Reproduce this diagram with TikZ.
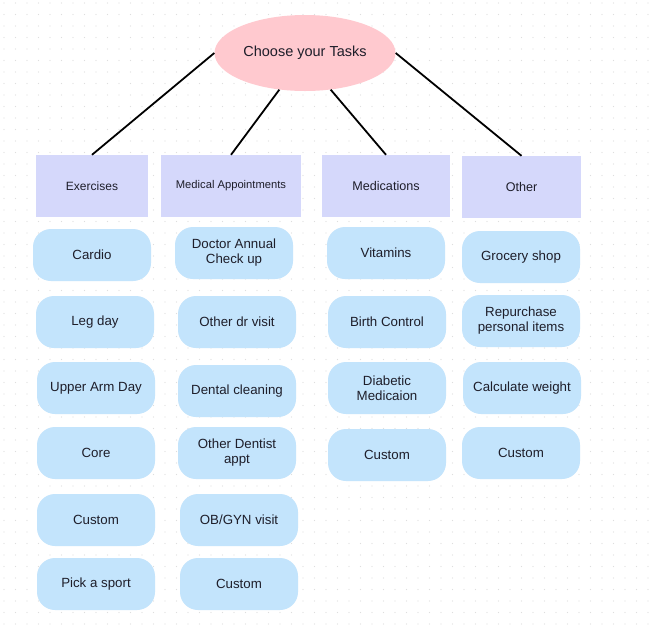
\documentclass[tikz,border=0pt]{standalone}
\usepackage{fontspec}
\setmainfont{Liberation Sans}
\definecolor{taskpink}{HTML}{FFC9CF}
\definecolor{headblue}{HTML}{D5D8FB}
\definecolor{itemblue}{HTML}{C3E4FC}
\definecolor{inkdark}{HTML}{1E1E2A}
\tikzset{
  task/.style={ellipse,fill=taskpink,minimum width=181pt,minimum height=76pt,inner sep=0pt,
    text=inkdark,font=\fontsize{14.5}{17}\selectfont},
  head/.style={rectangle,fill=headblue,minimum height=62pt,inner sep=0pt,
    text=inkdark,font=\fontsize{12}{13}\selectfont},
  item/.style={rectangle,rounded corners=18pt,fill=itemblue,minimum width=118pt,minimum height=52pt,
    inner sep=0pt,align=center,text=inkdark,font=\fontsize{13.3}{15}\selectfont},
  link/.style={draw=black,line width=1.8pt}
}
\usetikzlibrary{shapes.geometric}
\begin{document}
\begin{tikzpicture}[x=1pt,y=-1pt]
  \useasboundingbox (0,0) rectangle (652,625);
  \fill [white] (0,0) rectangle (652,625);
  % dotted background
  \foreach \i in {0,...,56} {
    \foreach \j in {0,...,54} {
      \fill [black!13] (4+11.5*\i,3+11.5*\j) circle (0.7pt);
    }
  }
  \node [task] (tasks) at (305,53) {Choose your Tasks};
  \node [head,minimum width=112pt] (exer) at (92,186) {Exercises};
  \node [head,minimum width=140pt,font=\fontsize{11.2}{13}\selectfont] (medapp) at (231,186) {Medical Appointments};
  \node [head,minimum width=128pt,font=\fontsize{12.6}{14}\selectfont] (meds) at (386,186) {Medications};
  \node [head,minimum width=119pt,font=\fontsize{12.6}{14}\selectfont] (other) at (521.5,187) {Other};
  \draw [link] (tasks.west) -- (exer.north);
  \draw [link] (tasks.235) -- (medapp.north);
  \draw [link] (tasks.305) -- (meds.north);
  \draw [link] (tasks.east) -- (other.north);
  % exercises
  \node [item] (ex1) at (92,255) {Cardio};
  \node [item] (ex2) at (95,322) {Leg day};
  \node [item] (ex3) at (96,388) {Upper Arm Day};
  \node [item] (ex4) at (96,453) {Core};
  \node [item] (ex5) at (96,520) {Custom};
  \node [item] (ex6) at (96,584) {Pick a sport};
  % medical appointments
  \node [item] (ma1) at (234,253) {Doctor Annual\\Check up};
  \node [item] (ma2) at (237,322) {Other dr visit};
  \node [item] (ma3) at (237,391) {Dental cleaning};
  \node [item] (ma4) at (237,453) {Other Dentist\\appt};
  \node [item] (ma5) at (239,520) {OB/GYN visit};
  \node [item] (ma6) at (239,584) {Custom};
  % medications
  \node [item] (md1) at (386,253) {Vitamins};
  \node [item] (md2) at (387,322) {Birth Control};
  \node [item] (md3) at (387,388) {Diabetic\\Medicaion};
  \node [item] (md4) at (387,455) {Custom};
  % other
  \node [item] (ot1) at (521,257) {Grocery shop};
  \node [item] (ot2) at (521,321) {Repurchase\\personal items};
  \node [item] (ot3) at (522,388) {Calculate weight};
  \node [item] (ot4) at (521,453) {Custom};
\end{tikzpicture}
\end{document}
